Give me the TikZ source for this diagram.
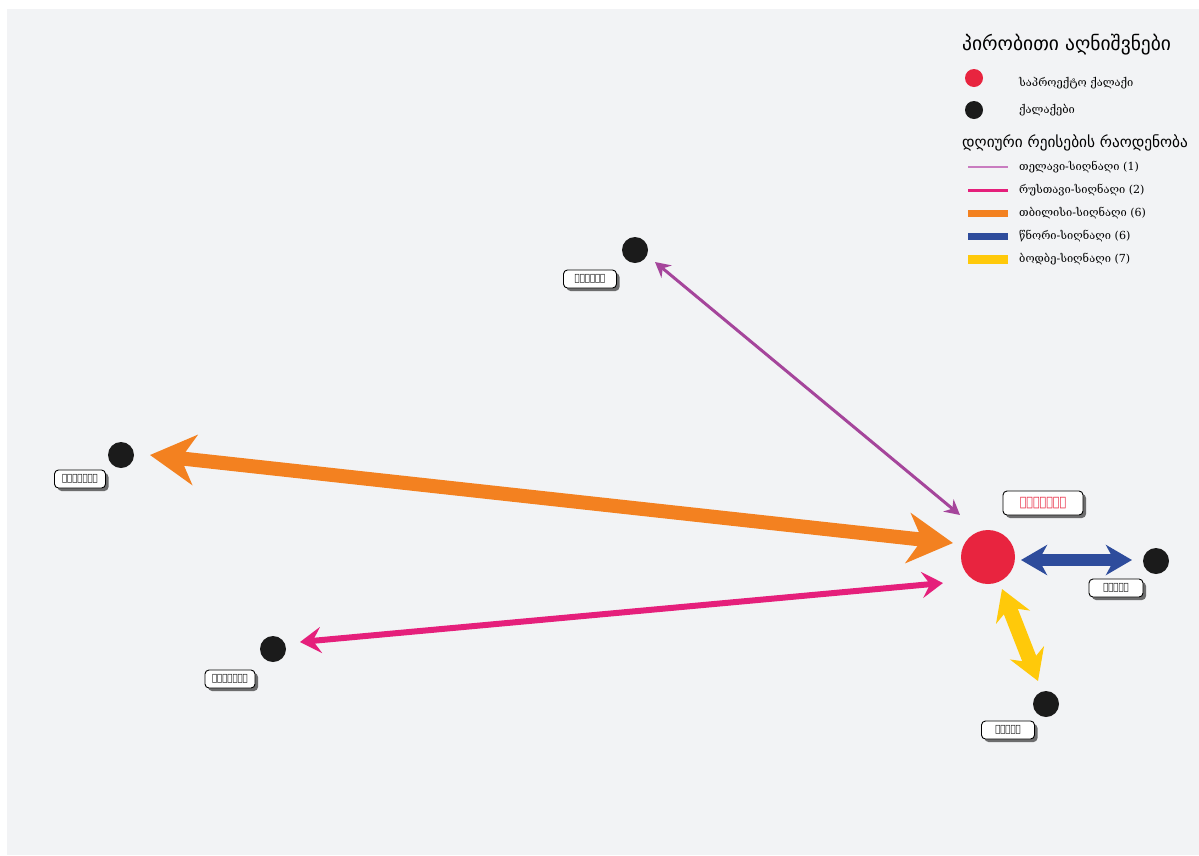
\documentclass[tikz,border=0pt]{standalone}
\usepackage{fontspec}
\setmainfont{DejaVu Sans}
\newfontfamily\geosans{DejaVu Sans}
\newfontfamily\geoserif{DejaVu Serif}
\newfontfamily\geocond[FakeStretch=0.85]{DejaVu Sans}
\usetikzlibrary{arrows.meta,shadows,calc}
\definecolor{bg}{HTML}{F2F3F5}
\definecolor{sigred}{HTML}{E8243F}
\definecolor{cityblk}{HTML}{1B1B1B}
\definecolor{cpurple}{HTML}{A5459B}
\definecolor{cpurplelight}{HTML}{C97CC0}
\definecolor{cmagenta}{HTML}{E51F7B}
\definecolor{corange}{HTML}{F38120}
\definecolor{cblue}{HTML}{2E4C9C}
\definecolor{cyellow}{HTML}{FFC90A}
\tikzset{
  city/.style={circle, fill=cityblk, minimum size=26pt, inner sep=0pt},
  lbl/.style={draw=black, line width=0.9pt, fill=white, rounded corners=4pt,
    inner xsep=4pt, inner ysep=0pt, minimum height=18pt, minimum width=51pt,
    font=\geocond\bfseries\fontsize{10}{10}\selectfont,
    drop shadow={shadow xshift=3pt, shadow yshift=-3pt, fill=black, opacity=0.55}},
  lgtext/.style={anchor=west, font=\geoserif\fontsize{11.1}{11.1}\selectfont, inner sep=0pt},
  lghead/.style={anchor=west, inner sep=0pt},
  purplearrow/.style={draw=cpurple, line width=3pt,
    {Stealth[length=15pt,width=16pt,inset=5pt]}-{Stealth[length=15pt,width=16pt,inset=5pt]}},
  magentaarrow/.style={draw=cmagenta, line width=6pt,
    {Stealth[length=21pt,width=26pt,inset=8pt]}-{Stealth[length=21pt,width=26pt,inset=8pt]}},
  orangearrow/.style={draw=corange, line width=14pt,
    {Stealth[length=45pt,width=50pt,inset=14pt]}-{Stealth[length=45pt,width=50pt,inset=14pt]}},
  bluearrow/.style={draw=cblue, line width=12pt,
    {Stealth[length=26pt,width=30pt,inset=8pt]}-{Stealth[length=26pt,width=30pt,inset=8pt]}},
  yellowarrow/.style={draw=cyellow, line width=15pt,
    {Stealth[length=30pt,width=36pt,inset=10pt]}-{Stealth[length=30pt,width=36pt,inset=10pt]}},
}
\begin{document}
\begin{tikzpicture}[x=1pt,y=-1pt]
\useasboundingbox (0,0) rectangle (1199,855);
\fill[white] (0,0) rectangle (1199,855);
\fill[bg] (7,9) rectangle (1199,855);

% cities
\node[city] (tel) at (635,250) {};
\node[city] (tbi) at (121,455) {};
\node[city] (rus) at (273,649) {};
\node[city] (tsn) at (1156,561) {};
\node[city] (bod) at (1046,704) {};
\node[circle, fill=sigred, minimum size=54pt, inner sep=0pt] (sig) at (988,557) {};

% arrow end points
\coordinate (oA) at ($(tbi)+(29,0)$);
\coordinate (oB) at ($(sig)+(-35,-14)$);
\coordinate (pA) at ($(tel)+(20,12)$);
\coordinate (pB) at ($(sig)+(-28,-42)$);
\coordinate (mA) at ($(rus)+(27,-7)$);
\coordinate (mB) at ($(sig)+(-45,26)$);
\coordinate (bA) at ($(sig)+(33,3)$);
\coordinate (bB) at ($(tsn)+(-24,-1)$);
\coordinate (yA) at ($(sig)+(14,32)$);
\coordinate (yB) at ($(bod)+(-8,-23)$);

\draw[orangearrow] (oA) -- (oB);
\draw[purplearrow] (pA) -- (pB);
\draw[magentaarrow] (mA) -- (mB);
\draw[bluearrow] (bA) -- (bB);
\draw[yellowarrow] (yA) -- (yB);

% labels
\node[lbl, minimum width=53pt] (telL) at (590,279) {ᲗᲔᲚᲐᲕᲘ};
\node[lbl, minimum width=51pt] (tbiL) at (80,479) {ᲗᲑᲘᲚᲘᲡᲘ};
\node[lbl, minimum width=50pt] (rusL) at (230,679) {ᲠᲣᲡᲗᲐᲕᲘ};
\node[lbl, text=sigred, minimum height=24pt, minimum width=80pt, inner xsep=6pt,
  font=\geocond\bfseries\fontsize{13}{13}\selectfont] (sigL) at (1043,503) {ᲡᲘᲦᲜᲐᲦᲘ};
\node[lbl, minimum width=54pt] (tsnL) at (1116,588) {ᲬᲜᲝᲠᲘ};
\node[lbl, minimum width=53pt] (bodL) at (1008,730) {ᲑᲝᲓᲑᲔ};

% legend
\node[lghead, font=\geosans\fontsize{19.5}{19.5}\selectfont] (lgT) at (962,45) {პირობითი აღნიშვნები};
\node[circle, fill=sigred, minimum size=18pt, inner sep=0pt] (lgR) at (974,78) {};
\node[lgtext] (lgRt) at (1019,83) {საპროექტო ქალაქი};
\node[circle, fill=cityblk, minimum size=18pt, inner sep=0pt] (lgB) at (974,110) {};
\node[lgtext] (lgBt) at (1019,110) {ქალაქები};
\node[lghead, font=\geosans\fontsize{15.3}{15.3}\selectfont] (lgS) at (962,143) {დღიური რეისების რაოდენობა};

\coordinate (l1a) at (968,167); \coordinate (l1b) at (1008,167);
\coordinate (l2a) at (968,190); \coordinate (l2b) at (1008,190);
\coordinate (l3a) at (968,213); \coordinate (l3b) at (1008,213);
\coordinate (l4a) at (968,236); \coordinate (l4b) at (1008,236);
\coordinate (l5a) at (968,259); \coordinate (l5b) at (1008,259);
\draw[cpurplelight, line width=1.3pt] (l1a) -- (l1b);
\draw[cmagenta, line width=3pt] (l2a) -- (l2b);
\draw[corange, line width=7pt] (l3a) -- (l3b);
\draw[cblue, line width=7pt] (l4a) -- (l4b);
\draw[cyellow, line width=9pt] (l5a) -- (l5b);
\node[lgtext] (t1) at (1019,167) {თელავი-სიღნაღი (1)};
\node[lgtext] (t2) at (1019,190) {რუსთავი-სიღნაღი (2)};
\node[lgtext] (t3) at (1019,213) {თბილისი-სიღნაღი (6)};
\node[lgtext] (t4) at (1019,236) {წნორი-სიღნაღი (6)};
\node[lgtext] (t5) at (1019,259) {ბოდბე-სიღნაღი (7)};
\end{tikzpicture}
\end{document}
